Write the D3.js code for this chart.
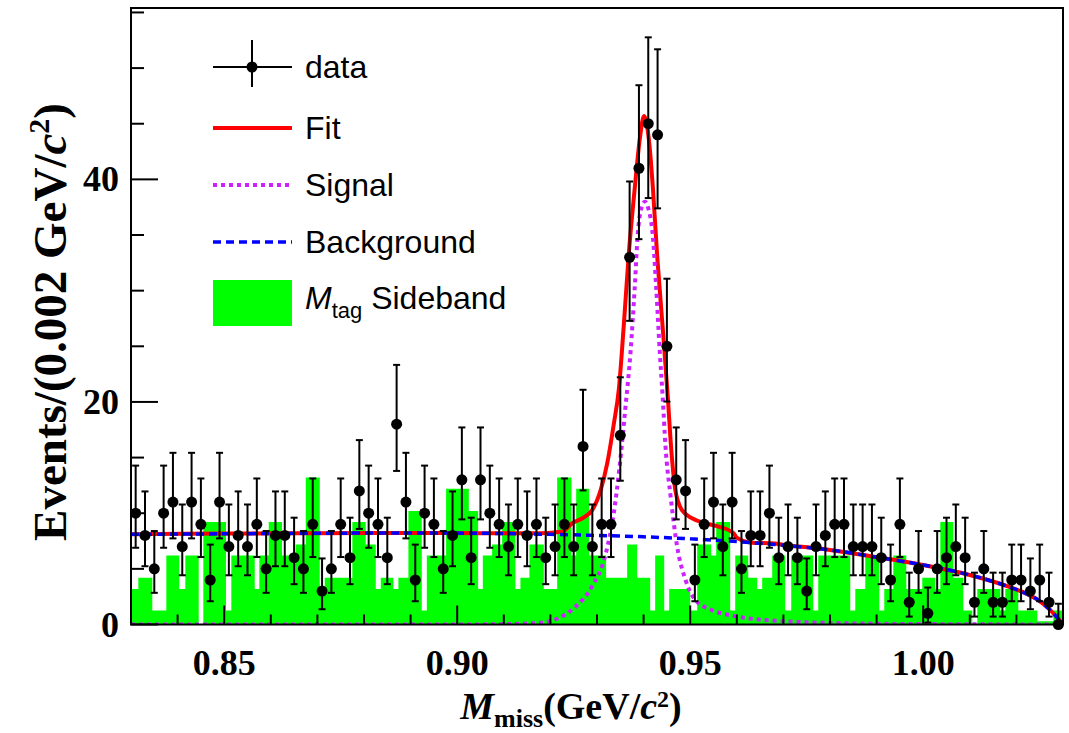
<!DOCTYPE html>
<html><head><meta charset="utf-8">
<script src="https://cdn.jsdelivr.net/npm/d3@7"></script>
<style>body{margin:0;background:#fff}</style>
</head><body>
<svg id="c" width="1069" height="733" xmlns="http://www.w3.org/2000/svg"></svg>
<script>
// ---- binned data: 100 bins of 0.002 GeV/c^2 starting at 0.83 ----
const binLow = 0.83;
const binWidth = 0.002;
const counts = [
  10, 8, 5, 10, 11, 7, 11, 9, 4, 11, 7, 8, 7, 9, 5, 8, 8,
  6, 5, 9, 3, 5, 9, 6, 12, 10, 9, 6, 18, 11, 4, 10, 9, 5,
  8, 13, 6, 13, 10, 9, 7, 9, 8, 9, 6, 7, 9, 7, 16, 7, 9,
  9, 17, 33, 41, 45, 44, 25, 13, 12, 4, 9, 11, 7, 11, 5, 8, 8,
  10, 6, 7, 6, 3, 7, 8, 9, 9, 7, 7, 7, 6, 4, 9, 2, 5,
  1, 5, 6, 7, 6, 2, 5, 2, 2, 4, 4, 3, 4, 2, 0
];

// ---- M_tag sideband histogram (step edges and heights) ----
const sbEdges = [
  0.83000, 0.83157, 0.83457, 0.83758, 0.84037, 0.84166, 0.84453, 0.84552, 0.85039, 0.85153,
  0.85655, 0.85754, 0.85956, 0.86241, 0.86535, 0.86750, 0.87051, 0.87158, 0.87750, 0.88038,
  0.88253, 0.88360, 0.88631, 0.88738, 0.88953, 0.89240, 0.89348, 0.89762, 0.90249, 0.90449,
  0.90550, 0.90749, 0.90964, 0.91249, 0.91357, 0.91550, 0.91859, 0.92145, 0.92452, 0.92553,
  0.92832, 0.93196, 0.93647, 0.93862, 0.94141, 0.94248, 0.94442, 0.94549, 0.95000, 0.95150,
  0.95450, 0.95558, 0.95858, 0.95966, 0.96245, 0.96438, 0.96545, 0.96760, 0.97039, 0.97168,
  0.97640, 0.97748, 0.98435, 0.98543, 0.98757, 0.99058, 0.99165, 0.99358, 0.99637, 0.99980,
  1.00259, 1.00367, 1.00646, 1.00860, 1.01053, 1.01161, 1.01654, 1.01762, 1.02041, 1.02449,
  1.02793, 1.03000
];
const sbHeights = [
  3.2, 4.2, 1.25, 6.2, 3.2, 6.2, 0, 9.2, 1.25, 6.2,
  3.2, 6.2, 9.2, 6.2, 7.2, 13.2, 3.2, 4.2, 9.2, 7.2,
  3.2, 4.2, 3.2, 4.2, 10.2, 1.25, 6.2, 12.2, 10.2, 3.2,
  6.2, 7.2, 9.2, 3.2, 4.2, 7.2, 3.2, 13.2, 6.2, 12.2,
  6.2, 4.2, 7.2, 4.2, 1.25, 6.2, 1.25, 3.2, 1.25, 7.2,
  6.2, 9.2, 1.25, 6.2, 4.2, 3.2, 4.2, 6.2, 1.25, 6.2,
  1.25, 6.2, 1.25, 3.2, 6.2, 1.25, 3.2, 6.2, 3.2, 4.2,
  3.2, 9.2, 4.2, 1.25, 0, 3.2, 1.25, 3.2, 1.25, 0.3,
  1.25
];

// ---- fitted curves: [mass, events per bin] ----
const bkgCurve = [
  [0.830, 8.10], [0.850, 8.15], [0.870, 8.20], [0.890, 8.22], [0.905, 8.20],
  [0.920, 8.10], [0.930, 8.00], [0.940, 7.88], [0.950, 7.70], [0.960, 7.45],
  [0.970, 7.12], [0.980, 6.70], [0.990, 6.05], [1.000, 5.35], [1.010, 4.45],
  [1.018, 3.45], [1.022, 2.80], [1.025, 2.10], [1.027, 1.40], [1.029, 0.50],
  [1.030, 0.00]
];
const sigCurve = [
  [0.830, 0.0], [0.900, 0.0], [0.910, 0.03], [0.9176, 0.15], [0.9219, 0.6],
  [0.9254, 1.6], [0.9289, 3.4], [0.9319, 6.4], [0.9336, 10.0], [0.9348, 14.0],
  [0.9361, 19.5], [0.9372, 24.5], [0.9381, 30.3], [0.9387, 34.8], [0.9395, 37.4],
  [0.9403, 38.0], [0.9410, 37.4], [0.9420, 34.8], [0.9427, 30.3], [0.9435, 24.3],
  [0.9441, 20.4], [0.9447, 16.0], [0.9458, 11.5], [0.9472, 7.0], [0.9490, 4.0],
  [0.9511, 2.2], [0.9546, 1.3], [0.9596, 0.75], [0.970, 0.3], [0.985, 0.1],
  [1.005, 0.03], [1.030, 0.0]
];
const fitCurve = [
  [0.830, 8.12], [0.850, 8.17], [0.870, 8.21], [0.890, 8.23], [0.905, 8.21],
  [0.918, 8.20], [0.9226, 8.35], [0.9247, 9.1], [0.9269, 9.55], [0.9290, 10.3],
  [0.9308, 12.1], [0.9322, 14.5], [0.9336, 18.0], [0.9347, 21.2], [0.9358, 27.2],
  [0.9368, 33.2], [0.9381, 39.2], [0.9392, 43.7], [0.9401, 45.7], [0.9411, 43.7],
  [0.9420, 39.2], [0.9429, 33.2], [0.9440, 27.2], [0.9452, 20.4], [0.9458, 16.5],
  [0.9468, 12.1], [0.9482, 10.3], [0.9504, 9.55], [0.9532, 9.1], [0.9561, 8.8],
  [0.9593, 8.2], [0.9600, 7.8], [0.9632, 7.35], [0.9674, 7.3], [0.9703, 7.15],
  [0.980, 6.70], [0.990, 6.05], [1.000, 5.35], [1.010, 4.45], [1.018, 3.45],
  [1.022, 2.80], [1.025, 2.10], [1.027, 1.40], [1.029, 0.50], [1.030, 0.00]
];

const xTicks = [0.85, 0.90, 0.95, 1.00];
const yTicks = [0, 20, 40];

// ---- layout ----
const svg = d3.select("#c");
const L = 131, R = 1063, T = 8, B = 624.5;
const x = d3.scaleLinear().domain([0.83, 1.03]).range([L, R]);
const y = d3.scaleLinear().domain([0, 55.4]).range([B, T]);

const GREEN = "#00ff00", RED = "#ff0000", BLUE = "#0000ff", MAG = "#cc22ff";

svg.append("defs").append("clipPath").attr("id", "frame")
  .append("rect").attr("x", L).attr("y", T).attr("width", R - L).attr("height", B - T);

// sideband histogram as filled steps
const sbPts = [];
sbHeights.forEach((h, i) => {
  sbPts.push([sbEdges[i], h]);
  sbPts.push([sbEdges[i + 1], h]);
});
const area = d3.area().x(d => x(d[0])).y0(y(0)).y1(d => y(d[1]));
svg.append("path").datum(sbPts).attr("d", area)
  .attr("fill", GREEN).attr("clip-path", "url(#frame)");

// fitted curves: total fit underneath, components dashed on top
const line = d3.line().x(d => x(d[0])).y(d => y(d[1])).curve(d3.curveMonotoneX);
const curves = svg.append("g").attr("clip-path", "url(#frame)");
curves.append("path").datum(fitCurve).attr("d", line).attr("fill", "none")
  .attr("stroke", RED).attr("stroke-width", 4);
curves.append("path").datum(bkgCurve).attr("d", line).attr("fill", "none")
  .attr("stroke", BLUE).attr("stroke-width", 3.5).attr("stroke-dasharray", "8 5");
curves.append("path").datum(sigCurve).attr("d", line).attr("fill", "none")
  .attr("stroke", MAG).attr("stroke-width", 4).attr("stroke-dasharray", "4 4");

// Poisson (Gehrels) confidence interval for each count
function poissonUp(n) { return n + Math.sqrt(n + 0.75) + 1; }
function poissonLo(n) {
  if (n === 0) return 0;
  return n * Math.pow(1 - 1 / (9 * n) - 1 / (3 * Math.sqrt(n)), 3);
}

// data points with error bars
const pts = svg.append("g");
counts.forEach((n, i) => {
  const cx = x(binLow + (i + 0.5) * binWidth);
  const yUp = y(Math.min(poissonUp(n), 55.4)), yLo = y(poissonLo(n));
  pts.append("line").attr("x1", cx).attr("x2", cx).attr("y1", yUp).attr("y2", yLo)
    .attr("stroke", "#000").attr("stroke-width", 2);
  [yUp, yLo].forEach(yy => {
    if (n === 0 && yy === yLo) return;
    pts.append("line").attr("x1", cx - 3.5).attr("x2", cx + 3.5).attr("y1", yy).attr("y2", yy)
      .attr("stroke", "#000").attr("stroke-width", 2);
  });
  pts.append("circle").attr("cx", cx).attr("cy", y(n)).attr("r", 5.5).attr("fill", "#000");
});

// frame and ticks
svg.append("rect").attr("x", L).attr("y", T).attr("width", R - L).attr("height", B - T)
  .attr("fill", "none").attr("stroke", "#000").attr("stroke-width", 2);

const xMinor = d3.range(0.84, 1.0301, 0.01);
const xAxis = svg.append("g");
xMinor.forEach(v => {
  const major = xTicks.some(t => Math.abs(t - v) < 1e-6);
  xAxis.append("line").attr("x1", x(v)).attr("x2", x(v))
    .attr("y1", B).attr("y2", B - (major ? 19 : 10)).attr("stroke", "#000").attr("stroke-width", 2);
});
xTicks.forEach(v => {
  xAxis.append("text").attr("x", x(v)).attr("y", B + 50).attr("text-anchor", "middle")
    .attr("font-family", "Liberation Serif").attr("font-weight", "bold").attr("font-size", 36)
    .text(d3.format(".2f")(v));
});
const yMinor = d3.range(0, 55.1, 5);
const yAxis = svg.append("g");
yMinor.forEach(v => {
  const major = yTicks.includes(v);
  yAxis.append("line").attr("x1", L).attr("x2", L + (major ? 27 : 13))
    .attr("y1", y(v)).attr("y2", y(v)).attr("stroke", "#000").attr("stroke-width", 2);
});
yTicks.forEach(v => {
  yAxis.append("text").attr("x", L - 12).attr("y", y(v) + 12).attr("text-anchor", "end")
    .attr("font-family", "Liberation Serif").attr("font-weight", "bold").attr("font-size", 36)
    .text(v);
});

// axis titles
const xt = svg.append("text").attr("x", 571).attr("y", 719).attr("text-anchor", "middle")
  .attr("font-family", "Liberation Serif").attr("font-weight", "bold").attr("font-size", 38);
xt.append("tspan").attr("font-style", "italic").text("M");
xt.append("tspan").attr("font-size", 26).attr("dy", 8).text("miss");
xt.append("tspan").attr("dy", -8).text("(GeV/");
xt.append("tspan").attr("font-style", "italic").text("c");
xt.append("tspan").attr("font-size", 24).attr("dy", -12).text("2");
xt.append("tspan").attr("dy", 12).text(")");

const yt = svg.append("text").attr("transform", "translate(66,322) rotate(-90)")
  .attr("text-anchor", "middle").attr("font-family", "Liberation Serif")
  .attr("font-weight", "bold").attr("font-size", 47);
yt.append("tspan").text("Events/(0.002 GeV/");
yt.append("tspan").attr("font-style", "italic").text("c");
yt.append("tspan").attr("font-size", 30).attr("dy", -17).text("2");
yt.append("tspan").attr("dy", 17).text(")");

// legend
const lg = svg.append("g").attr("font-family", "Liberation Sans").attr("font-size", 32);
const lx0 = 213, lx1 = 292, ltx = 305;
// data entry
lg.append("line").attr("x1", lx0).attr("x2", lx1).attr("y1", 67).attr("y2", 67).attr("stroke", "#000").attr("stroke-width", 2);
lg.append("line").attr("x1", 252).attr("x2", 252).attr("y1", 40).attr("y2", 87).attr("stroke", "#000").attr("stroke-width", 2);
lg.append("circle").attr("cx", 252).attr("cy", 67).attr("r", 5.5).attr("fill", "#000");
lg.append("text").attr("x", ltx).attr("y", 78).text("data");
// fit entry
lg.append("line").attr("x1", lx0).attr("x2", lx1).attr("y1", 128).attr("y2", 128).attr("stroke", RED).attr("stroke-width", 4);
lg.append("text").attr("x", ltx).attr("y", 139).text("Fit");
// signal entry
lg.append("line").attr("x1", lx0).attr("x2", lx1).attr("y1", 185).attr("y2", 185).attr("stroke", MAG).attr("stroke-width", 4).attr("stroke-dasharray", "4 4");
lg.append("text").attr("x", ltx).attr("y", 196).text("Signal");
// background entry
lg.append("line").attr("x1", lx0).attr("x2", lx1).attr("y1", 242).attr("y2", 242).attr("stroke", BLUE).attr("stroke-width", 3.5).attr("stroke-dasharray", "8 5");
lg.append("text").attr("x", ltx).attr("y", 253).text("Background");
// sideband entry
lg.append("rect").attr("x", lx0).attr("y", 280).attr("width", lx1 - lx0).attr("height", 46).attr("fill", GREEN);
const st = lg.append("text").attr("x", ltx).attr("y", 309);
st.append("tspan").attr("font-style", "italic").text("M");
st.append("tspan").attr("font-size", 22).attr("dy", 9).text("tag");
st.append("tspan").attr("dy", -9).text(" Sideband");
</script>
</body></html>
